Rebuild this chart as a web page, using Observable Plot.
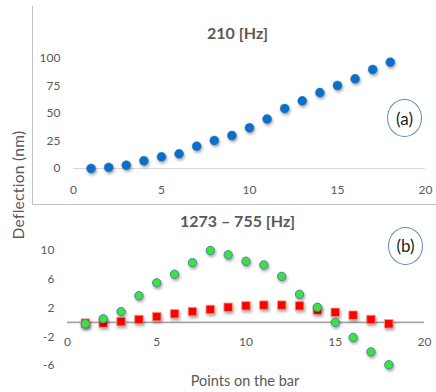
<!DOCTYPE html>
<html>
<head>
<meta charset="utf-8">
<script src="https://cdn.jsdelivr.net/npm/d3@7"></script>
<script src="https://cdn.jsdelivr.net/npm/@observablehq/plot@0.6"></script>
<style>
  html, body { margin: 0; padding: 0; background: #fff; }
  #wrap { position: relative; width: 436px; height: 392px; font-family: Lato, "Open Sans", sans-serif; color: #595959; overflow: hidden; }
  #wrap svg { position: absolute; left: 0; }
  .t { position: absolute; white-space: nowrap; transform: translate(-50%, -50%); }
  .title { font-weight: bold; font-size: 16px; color: #595959; }
  .tag { position: absolute; border: 1.3px solid #5b8bc0; border-radius: 50%; box-sizing: border-box; display: flex; align-items: center; justify-content: center; font-size: 17px; color: #222; }
  .shadow g[aria-label="dot"] > * { filter: drop-shadow(1px 2px 1.5px rgba(0,0,0,0.35)); }
</style>
</head>
<body>
<div id="wrap"></div>
<script>
// Panel (a): 210 Hz
const pointsA = [1,2,3,4,5,6,7,8,9,10,11,12,13,14,15,16,17,18];
const deflA = [0,1,3,7,10.6,13.3,20.3,25.5,30,37,45,54.5,61.5,69,75.5,81.5,90,96.7];
const yTicksA = [0,25,50,75,100];
const xTicks = [0,5,10,15,20];

// Panel (b): 1273 – 755 Hz
const pointsB = [1,2,3,4,5,6,7,8,9,10,11,12,13,14,15,16,17,18];
const greenB = [-0.2,0.5,1.5,3.7,5.5,6.7,8.3,10,9.4,8.5,8.0,6.4,3.9,2.1,0,-2.1,-4.1,-5.9];
const redB = [-0.1,-0.1,0.1,0.4,0.8,1.2,1.5,1.8,2.1,2.3,2.4,2.4,2.3,1.7,1.4,1.0,0.4,-0.2];
const yTicksB = [-6,-2,2,6,10];

const wrap = document.getElementById("wrap");
const tick = {fontSize: 12, fill: "#595959"};

const dataA = pointsA.map((p, i) => ({p, v: deflA[i]}));
const plotA = Plot.plot({
  width: 436, height: 205,
  marginLeft: 73, marginRight: 11, marginTop: 58, marginBottom: 37,
  className: "shadow",
  style: {fontFamily: "Lato, 'Open Sans', sans-serif", overflow: "visible"},
  x: {domain: [0, 20], axis: null},
  y: {domain: [0, 100], axis: null},
  marks: [
    Plot.ruleY([0], {stroke: "#d9d9d9", strokeWidth: 1}),
    Plot.axisY(yTicksA, {tickSize: 0, tickPadding: 13, fontSize: 12, fill: "#595959", label: null, tickFormat: d => String(d)}),
    Plot.text(xTicks, {x: d => d, y: 0, dy: 22, text: d => String(d), ...tick}),
    Plot.dot(dataA, {x: "p", y: "v", r: 4.5, fill: "#0a6fc9", stroke: "#2e75b6", strokeWidth: 0.5})
  ]
});
plotA.style.top = "0px";
wrap.appendChild(plotA);

const dataB = pointsB.map((p, i) => ({p, g: greenB[i], r: redB[i]}));
const plotB = Plot.plot({
  width: 436, height: 187,
  marginLeft: 67, marginRight: 12, marginTop: 45, marginBottom: 27,
  className: "shadow",
  style: {fontFamily: "Lato, 'Open Sans', sans-serif", overflow: "visible"},
  x: {domain: [0, 20], axis: null},
  y: {domain: [-6, 10], axis: null},
  marks: [
    Plot.ruleY([0], {stroke: "#a6a6a6", strokeWidth: 1.6}),
    Plot.axisY(yTicksB, {tickSize: 0, tickPadding: 13, fontSize: 12, fill: "#595959", label: null, tickFormat: d => String(d)}),
    Plot.text(xTicks, {x: d => d, y: 0, dy: 20, text: d => String(d), ...tick}),
    Plot.dot(dataB, {x: "p", y: "r", symbol: "square", r: 4.8, fill: "#ff0000", stroke: "#f4a582", strokeWidth: 0.8}),
    Plot.dot(dataB, {x: "p", y: "g", r: 4.2, fill: "#3de23d", stroke: "#4a7ebb", strokeWidth: 1})
  ]
});
plotB.style.top = "205px";
wrap.appendChild(plotB);

// frame lines of the figure
const frame = d3.select(wrap).append("svg")
  .attr("width", 436).attr("height", 392)
  .style("top", "0px").style("pointer-events", "none");
frame.append("path").attr("d", "M32.5,6 V204.5 H436").attr("fill", "none").attr("stroke", "#bfbfbf").attr("stroke-width", 1);

function addText(cls, txt, x, y, extra) {
  const d = document.createElement("div");
  d.className = "t " + cls;
  d.textContent = txt;
  d.style.left = x + "px"; d.style.top = y + "px";
  if (extra) Object.assign(d.style, extra);
  wrap.appendChild(d);
}
addText("title", "210 [Hz]", 237.5, 32);
addText("title", "1273 – 755 [Hz]", 237.5, 220);
addText("", "Points on the bar", 245, 380, {fontSize: "14.5px"});
addText("", "Deflection (nm)", 18, 185, {fontSize: "15.5px", letterSpacing: "0.3px", transform: "translate(-50%, -50%) rotate(-90deg)"});

function addTag(txt, cx, cy) {
  const d = document.createElement("div");
  d.className = "tag";
  d.textContent = txt;
  d.style.left = (cx - 17.5) + "px"; d.style.top = (cy - 19) + "px";
  d.style.width = "35px"; d.style.height = "38px";
  wrap.appendChild(d);
}
addTag("(a)", 404.5, 118);
addTag("(b)", 405.5, 245.5);
</script>
</body>
</html>
